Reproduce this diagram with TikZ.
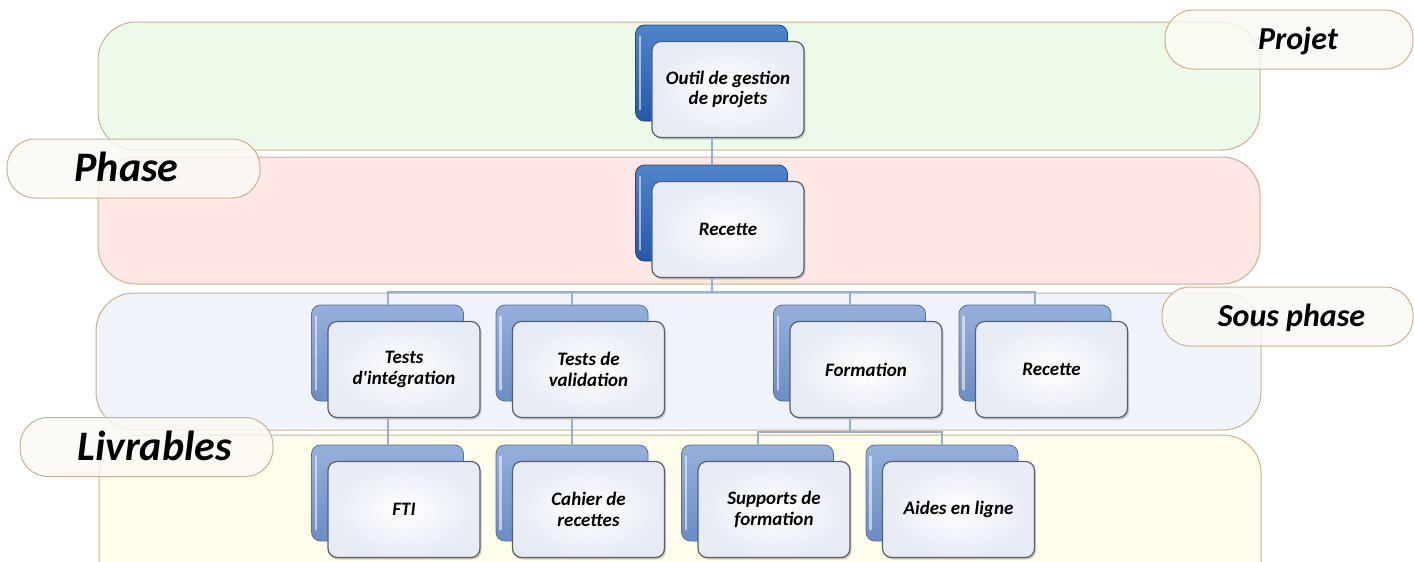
\documentclass[tikz,border=0pt]{standalone}
\usepackage{fontspec}
\setmainfont{Carlito}[Ligatures=TeXOff]
\usetikzlibrary{shadows}
\definecolor{bandG}{RGB}{237,250,233}
\definecolor{bandR}{RGB}{253,232,229}
\definecolor{bandB}{RGB}{240,244,250}
\definecolor{bandY}{RGB}{254,252,234}
\definecolor{bandEdge}{RGB}{201,178,145}
\definecolor{pillFill}{RGB}{252,250,245}
\definecolor{darkTop}{RGB}{80,132,205}
\definecolor{darkBot}{RGB}{38,88,170}
\definecolor{lightTop}{RGB}{150,176,220}
\definecolor{lightBot}{RGB}{108,140,196}
\definecolor{connCol}{RGB}{150,172,210}
\definecolor{frontEdge}{RGB}{95,95,95}
\definecolor{frontOut}{RGB}{230,235,244}
\newcommand\wbsnode[5]{%
  \node[backbox,#4] (#1b) at (#2,#3) {};
  \draw[gloss] ([xshift=5pt,yshift=-12pt]#1b.north west) -- ([xshift=5pt,yshift=12pt]#1b.south west);
  \node[frontbox] (#1f) at (#2+16.5,#3+16.5) {#5};
}
\begin{document}
\begin{tikzpicture}[x=1pt,y=-1pt,
  band/.style={draw=bandEdge, line width=1pt, rounded corners=38pt},
  pill/.style={draw=bandEdge, line width=1pt, fill=pillFill, fill opacity=0.82, text opacity=1,
    rounded corners=28pt, minimum height=59pt, inner sep=0pt, text depth=0pt},
  pillsmall/.style={pill, font=\fontsize{32}{32}\selectfont\bfseries\itshape, text height=20pt},
  pillbig/.style={pill, font=\fontsize{42}{42}\selectfont\bfseries\itshape, text height=26.5pt},
  backbox/.style={minimum width=152pt, minimum height=96pt, rounded corners=9pt, line width=0.8pt, inner sep=0pt},
  backdark/.style={top color=darkTop, bottom color=darkBot, draw=darkBot!80!black},
  backlight/.style={top color=lightTop, bottom color=lightBot, draw=lightBot!80!black},
  gloss/.style={draw=white, opacity=0.55, line width=2.5pt, line cap=round},
  frontbox/.style={minimum width=152pt, minimum height=96pt, rounded corners=9pt, draw=frontEdge,
    line width=1.2pt, inner color=white, outer color=frontOut, align=center, inner sep=2pt,
    font=\fontsize{19}{20.5}\selectfont\bfseries\itshape,
    drop shadow={shadow xshift=1.5pt, shadow yshift=-2pt, opacity=0.3, fill=black!60}},
  conn/.style={draw=connCol, line width=2pt}]
\useasboundingbox (0,0) rectangle (1414,562);
\clip (0,0) rectangle (1414,562);
\fill[white] (0,0) rectangle (1414,562);

% bands
\draw[band, fill=bandG] (98,22) rectangle (1260,150);
\draw[band, fill=bandR] (98,157) rectangle (1260,284);
\draw[band, fill=bandB] (96,293) rectangle (1261,430);
\draw[band, fill=bandY] (99,435) rectangle (1261,600);

% level labels
\node[pillsmall, minimum width=248pt] (lProjet) at (1289,39.5) {\hspace*{18pt}Projet};
\node[pillbig, minimum width=253pt] (lPhase) at (133.5,168.5) {Phase\hspace*{14pt}};
\node[pillsmall, minimum width=251pt] (lSous) at (1287.5,316.5) {\hspace*{8pt}Sous phase};
\node[pillbig, minimum width=253pt] (lLivr) at (146.5,447) {\hspace*{16pt}Livrables};

% boxes
\wbsnode{P}{711.5}{73}{backdark}{Outil de gestion\\de projets}
\wbsnode{R}{711.5}{213}{backdark}{Recette}
\wbsnode{TI}{387.5}{353}{backlight}{Tests\\d'intégration}
\wbsnode{TV}{572}{353}{backlight}{Tests de\\validation}
\wbsnode{FO}{849.5}{353}{backlight}{Formation}
\wbsnode{RE}{1035}{353}{backlight}{Recette}
\wbsnode{FT}{387.5}{493}{backlight}{FTI}
\wbsnode{CR}{572}{493}{backlight}{Cahier de\\recettes}
\wbsnode{SF}{757.5}{493}{backlight}{Supports de\\formation}
\wbsnode{AL}{942}{493}{backlight}{Aides en ligne}

% connectors
\coordinate (busA) at (0,292);
\coordinate (busB) at (0,432);
\draw[conn] (Pb.center |- Pf.south) -- (Rb.north);
\draw[conn] (Rb.center |- Rf.south) -- (Rb.center |- busA);
\draw[conn] (Rb.center |- busA) -| (TIb.north);
\draw[conn] (Rb.center |- busA) -| (TVb.north);
\draw[conn] (Rb.center |- busA) -| (FOb.north);
\draw[conn] (Rb.center |- busA) -| (REb.north);
\draw[conn] (TIb.center |- TIf.south) -- (FTb.north);
\draw[conn] (TVb.center |- TVf.south) -- (CRb.north);
\draw[conn] (FOb.center |- FOf.south) -- (FOb.center |- busB);
\draw[conn] (FOb.center |- busB) -| (SFb.north);
\draw[conn] (FOb.center |- busB) -| (ALb.north);
\end{tikzpicture}
\end{document}
